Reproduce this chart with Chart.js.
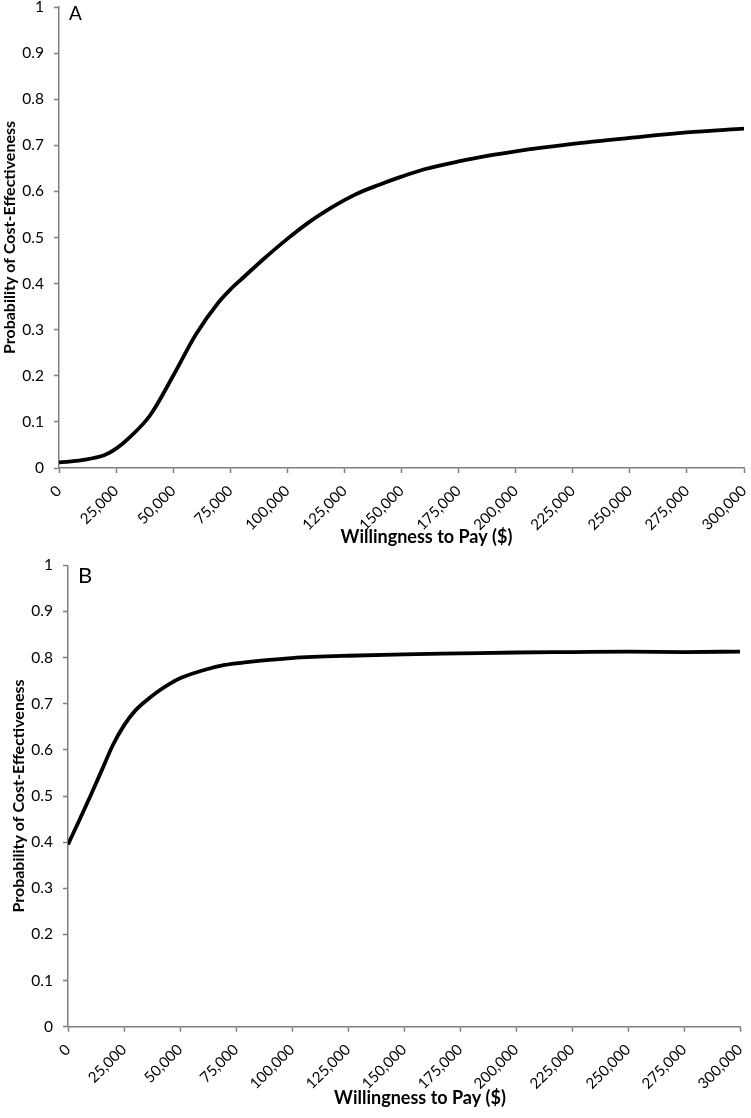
<!DOCTYPE html>
<html><head><meta charset="utf-8">
<script src="https://cdn.jsdelivr.net/npm/chart.js@4/dist/chart.umd.min.js"></script>
<style>
html,body{margin:0;padding:0;background:#fff;}
canvas{position:absolute;left:0;display:block;}
</style>
</head><body>
<canvas id="cA" width="751" height="555" style="top:0px"></canvas>
<canvas id="cB" width="751" height="563" style="top:555px"></canvas>
<script>
// Panel A
const wtpA  = [0, 10000, 20000, 25000, 30000, 40000, 50000, 60000, 70000, 75000, 80000, 90000, 100000, 110000, 120000, 125000, 130000, 140000, 150000, 160000, 175000, 190000, 200000, 225000, 250000, 275000, 300000];
const probA = [0.012, 0.017, 0.028, 0.042, 0.062, 0.115, 0.200, 0.290, 0.360, 0.387, 0.410, 0.455, 0.497, 0.535, 0.567, 0.581, 0.594, 0.614, 0.632, 0.648, 0.665, 0.679, 0.687, 0.703, 0.716, 0.728, 0.736];
// Panel B
const wtpB  = [0, 5000, 10000, 15000, 20000, 25000, 30000, 35000, 40000, 45000, 50000, 60000, 70000, 80000, 90000, 100000, 125000, 150000, 175000, 200000, 225000, 250000, 275000, 300000];
const probB = [0.395, 0.447, 0.500, 0.555, 0.610, 0.653, 0.685, 0.707, 0.726, 0.742, 0.755, 0.772, 0.784, 0.790, 0.795, 0.799, 0.804, 0.807, 0.809, 0.811, 0.812, 0.813, 0.812, 0.813];
// Tick labels
const xTicks = [0, 25000, 50000, 75000, 100000, 125000, 150000, 175000, 200000, 225000, 250000, 275000, 300000];
const yTicks = [0, 0.1, 0.2, 0.3, 0.4, 0.5, 0.6, 0.7, 0.8, 0.9, 1];
const xTitle = 'Willingness to Pay ($)';
const yTitle = 'Probability of Cost-Effectiveness';

const FONT = 'Lato, "Open Sans", sans-serif';
const AXIS = '#7f7f7f';

function makeChart(id, wtp, prob, letter, g) {
  const decoPlugin = {
    id: 'deco' + letter,
    afterDraw(chart) {
      const ctx = chart.ctx, a = chart.chartArea;
      ctx.save();
      ctx.fillStyle = '#000';
      ctx.font = g.letterSize + 'px ' + FONT;
      ctx.textBaseline = 'alphabetic';
      ctx.textAlign = 'left';
      ctx.fillText(letter, a.left + 10, a.top + g.letterBase);
      // x-axis title
      ctx.font = 'bold 18px ' + FONT;
      ctx.textAlign = 'center';
      ctx.textBaseline = 'middle';
      ctx.fillText(xTitle, (a.left + a.right) / 2 + g.titleShift, a.bottom + g.titleDrop);
      ctx.restore();
    }
  };
  return new Chart(document.getElementById(id), {
    type: 'line',
    data: {
      datasets: [{
        data: wtp.map((x, i) => ({x: x, y: prob[i]})),
        borderColor: '#000',
        borderWidth: 3.8,
        pointRadius: 0,
        fill: false,
        cubicInterpolationMode: 'monotone'
      }]
    },
    options: {
      responsive: false,
      devicePixelRatio: 1,
      animation: false,
      events: [],
      layout: { padding: g.pad },
      plugins: { legend: { display: false }, tooltip: { enabled: false } },
      scales: {
        x: {
          type: 'linear', min: 0, max: 300000,
          afterBuildTicks(s) { s.ticks = xTicks.map(v => ({value: v})); },
          afterFit(s) { s.height = g.xH; s.paddingLeft = 0; s.paddingRight = 0; s.paddingTop = 0; s.paddingBottom = 0; },
          border: { color: AXIS, width: 1.5 },
          grid: { drawOnChartArea: false, drawTicks: true, tickLength: 5, tickColor: AXIS, tickWidth: 1.5 },
          ticks: {
            autoSkip: false, minRotation: 45, maxRotation: 45, padding: 9,
            color: '#000', font: { family: FONT, size: 15 },
            callback: v => v.toLocaleString('en-US')
          }
        },
        y: {
          type: 'linear', min: 0, max: 1,
          afterBuildTicks(s) { s.ticks = yTicks.map(v => ({value: v})); },
          afterFit(s) { s.width = g.yW; s.paddingLeft = 0; s.paddingRight = 0; s.paddingTop = 0; s.paddingBottom = 0; },
          border: { color: AXIS, width: 1.5 },
          grid: { drawOnChartArea: false, drawTicks: true, tickLength: 5, tickColor: AXIS, tickWidth: 1.5 },
          ticks: {
            padding: 10, color: '#000', font: { family: FONT, size: 15.5 },
            callback: v => String(+v.toFixed(1))
          },
          title: { display: true, text: yTitle, color: '#000', font: { family: FONT, size: 16, weight: 'bold' }, padding: {top: 0, bottom: 0} }
        }
      }
    },
    plugins: [decoPlugin]
  });
}

makeChart('cA', wtpA, probA, 'A', {
  yW: 59, xH: 71, pad: {left: 0, top: 7, right: 7, bottom: 16}, letterSize: 19, letterBase: 13,
  titleShift: 25, titleDrop: 69
});
makeChart('cB', wtpB, probB, 'B', {
  yW: 59, xH: 83, pad: {left: 9, top: 10.3, right: 11, bottom: 8.3}, letterSize: 22, letterBase: 18,
  titleShift: 16, titleDrop: 71
});
</script>
</body></html>
